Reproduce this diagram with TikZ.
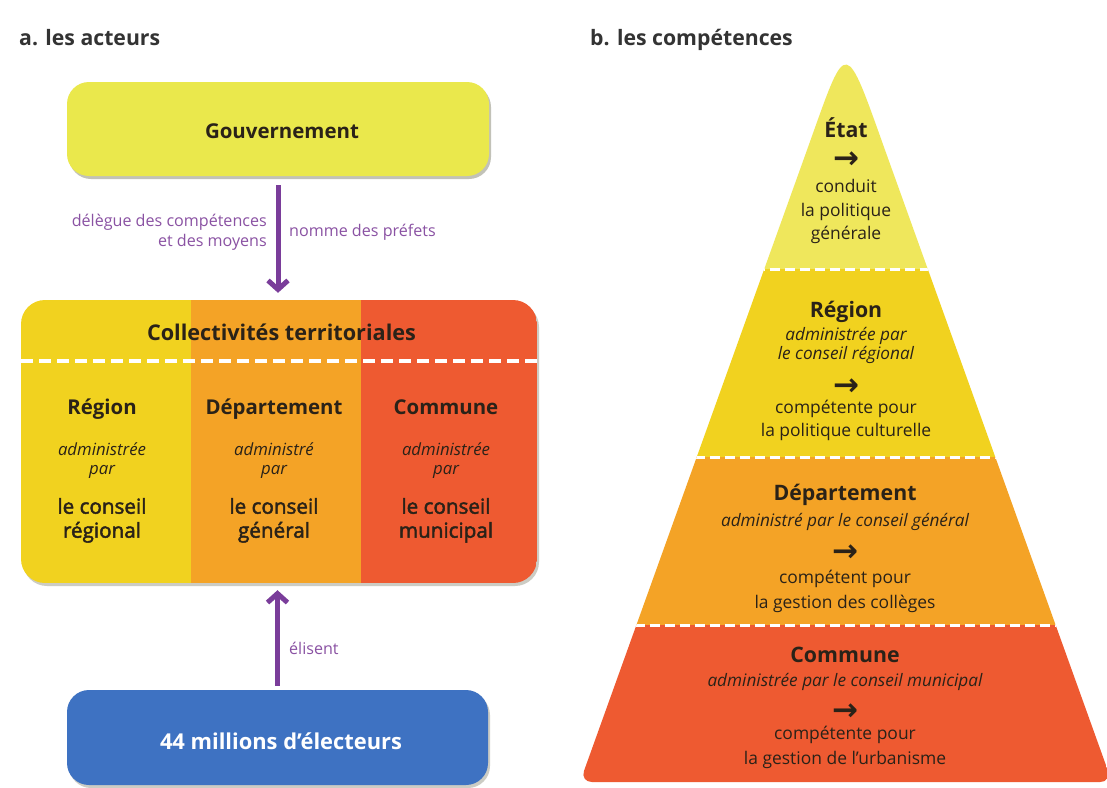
\documentclass[tikz,border=0pt]{standalone}
\usepackage{fontspec}
\setmainfont{Open Sans}
\newfontfamily\arrowfont{DejaVu Sans}
\newfontfamily\medfont[FakeBold=2.2]{Open Sans}
\usetikzlibrary{arrows.meta}
\newlength\fitlen
\newcommand\fitsz[2]{\settowidth\fitlen{\fontsize{10pt}{12pt}\selectfont #2}\pgfmathsetmacro\fitval{10*#1/\fitlen}\fontsize{\fitval pt}{\fitval pt}\selectfont}
\newsavebox\arbox
\newcommand\arrglyph{\sbox\arbox{→}\raisebox{\dimexpr(\dp\arbox-\ht\arbox)/2\relax}[2pt][2pt]{\usebox\arbox}}
\definecolor{govc}{HTML}{EAE84C}
\definecolor{ycol}{HTML}{F1D21F}
\definecolor{ocol}{HTML}{F4A326}
\definecolor{rcol}{HTML}{EE5A31}
\definecolor{bluec}{HTML}{3E72C2}
\definecolor{purp}{HTML}{7A3D9A}
\definecolor{purpt}{HTML}{8A52A3}
\definecolor{txtc}{HTML}{2A2218}
\definecolor{hdrc}{HTML}{333333}
\definecolor{topc}{HTML}{EFE75C}
\definecolor{shadowc}{HTML}{9A9A8A}
\begin{document}
\begin{tikzpicture}[x=1pt,y=-1pt,
  tx/.style={inner sep=0, anchor=mid, yshift=-4pt},
  hdr/.style={tx, font=\bfseries\fitsz{141}{a. les acteurs}, text=hdrc},
  box/.style={rounded corners=22pt, inner sep=0},
  govt/.style={tx, font=\bfseries\fitsz{154}{Gouvernement}, text=txtc},
  ctitle/.style={tx, font=\bfseries\fitsz{269}{Collectivités territoriales}, text=txtc},
  coltitle/.style={tx, font=\bfseries\fitsz{137}{Département}, text=txtc},
  colit/.style={tx, font=\itshape\fitsz{88}{administrée}, text=txtc},
  colbody/.style={tx, font=\medfont\fitsz{89}{le conseil}, text=txtc},
  plab/.style={tx, font=\fitsz{195}{délègue des compétences}, text=purpt},
  elect/.style={tx, font=\bfseries\fitsz{242}{44 millions d’électeurs}, text=white},
  ptitle/.style={tx, font=\bfseries\fitsz{143}{Département}, text=txtc},
  pit/.style={tx, font=\itshape\fitsz{275}{administrée par le conseil municipal}, text=txtc},
  pbody/.style={tx, font=\fitsz{181}{la gestion des collèges}, text=txtc},
  parrow/.style={inner sep=0, font=\arrowfont\bfseries\fitsz{26}{→}, text=txtc},
  parr/.style={draw=purp, line width=5pt, -{Straight Barb[length=9pt,width=20pt]}},
  wdash/.style={draw=white, line width=3.5pt, dash pattern=on 12pt off 6pt},
  pdash/.style={draw=white, line width=3pt, dash pattern=on 10pt off 5pt}
]
\useasboundingbox (0,0) rectangle (1107,787);
\fill[white] (0,0) rectangle (1107,787);

% headers
\node[hdr, anchor=mid west] (ha) at (19,39) {a. les acteurs};
\node[hdr, anchor=mid west] (hb) at (590,39) {b. les compétences};

% Gouvernement
\fill[shadowc, opacity=0.6, rounded corners=22pt] (69,85) rectangle (491,179);
\node[box, fill=govc, minimum width=422pt, minimum height=94pt] (gov) at (278,129) {};
\node[govt] (govtext) at (282,132) {Gouvernement};

% Collectivites
\node[minimum width=516pt, minimum height=283pt, inner sep=0] (coll) at (279,441.5) {};
\fill[shadowc, opacity=0.5, rounded corners=24pt] (23,303) rectangle (539,586);
\begin{scope}
  \clip[rounded corners=24pt] (21,300) rectangle (537,583);
  \fill[ycol] (21,300) rectangle (191,583);
  \fill[ocol] (191,300) rectangle (361,583);
  \fill[rcol] (361,300) rectangle (537,583);
\end{scope}
\coordinate (dl) at (21,361);
\coordinate (dr) at (537,361);
\draw[wdash] (dl) -- (dr);
\node[ctitle] (ct) at (281.5,334) {Collectivités territoriales};

\node[coltitle] (r1) at (102,408) {Région};
\node[colit] (r2) at (102,449) {administrée};
\node[colit] (r3) at (102,468) {par};
\node[colbody] (r4) at (102,507) {le conseil};
\node[colbody] (r5) at (102,531) {régional};

\node[coltitle] (d1) at (274,408) {Département};
\node[colit] (d2) at (274,449) {administré};
\node[colit] (d3) at (274,468) {par};
\node[colbody] (d4) at (274,507) {le conseil};
\node[colbody] (d5) at (274,531) {général};

\node[coltitle] (c1) at (446,408) {Commune};
\node[colit] (c2) at (446,449) {administrée};
\node[colit] (c3) at (446,468) {par};
\node[colbody] (c4) at (446,507) {le conseil};
\node[colbody] (c5) at (446,531) {municipal};

% electeurs
\fill[shadowc, opacity=0.5, rounded corners=22pt] (69,693) rectangle (490,788);
\node[box, fill=bluec, minimum width=421pt, minimum height=95pt] (elec) at (277.5,737.5) {};
\node[elect] (elt) at (281,743) {44 millions d’électeurs};

% arrows
\draw[parr, shorten <=9pt, shorten >=7pt] (gov.south) -- (gov.south |- coll.north);
\draw[parr, shorten <=4pt, shorten >=7pt] (elec.north) -- (elec.north |- coll.south);
\node[plab, anchor=mid east] (l1) at (267,220) {délègue des compétences};
\node[plab, anchor=mid east] (l2) at (267,240) {et des moyens};
\node[plab, anchor=mid west] (l3) at (289,230) {nomme des préfets};
\node[plab, anchor=mid west] (l4) at (289,648) {élisent};

% pyramid
\begin{scope}
  \clip (807,150) .. controls (847,38) and (845,38) .. (885,150)
    [rounded corners=12pt] -- (1112,782) -- (580,782) -- cycle;
  \fill[topc] (560,0) rectangle (1107,269);
  \fill[ycol] (560,269) rectangle (1107,457);
  \fill[ocol] (560,457) rectangle (1107,625);
  \fill[rcol] (560,625) rectangle (1107,787);
  \coordinate (p1l) at (560,269); \coordinate (p1r) at (1107,269);
  \coordinate (p2l) at (560,457); \coordinate (p2r) at (1107,457);
  \coordinate (p3l) at (560,625); \coordinate (p3r) at (1107,625);
  \draw[pdash] (p1l) -- (p1r);
  \draw[pdash] (p2l) -- (p2r);
  \draw[pdash] (p3l) -- (p3r);
\end{scope}

\node[ptitle] (e1) at (846,131) {État};
\node[parrow] (e2) at (846,160) {\arrglyph};
\node[pbody] (e3) at (846,186) {conduit};
\node[pbody] (e4) at (846,210) {la politique};
\node[pbody] (e5) at (846,233) {générale};

\node[ptitle] (g1) at (846,311) {Région};
\node[pit] (g2) at (846,334) {administrée par};
\node[pit] (g3) at (846,353) {le conseil régional};
\node[parrow] (g4) at (846,387) {\arrglyph};
\node[pbody] (g5) at (846,407) {compétente pour};
\node[pbody] (g6) at (846,430) {la politique culturelle};

\node[ptitle] (h1) at (845,494) {Département};
\node[pit] (h2) at (845,520) {administré par le conseil général};
\node[parrow] (h3) at (845,553) {\arrglyph};
\node[pbody] (h4) at (845,577) {compétent pour};
\node[pbody] (h5) at (845,602) {la gestion des collèges};

\node[ptitle] (k1) at (845,656) {Commune};
\node[pit] (k2) at (845,680) {administrée par le conseil municipal};
\node[parrow] (k3) at (845,712) {\arrglyph};
\node[pbody] (k4) at (845,733) {compétente pour};
\node[pbody] (k5) at (845,758) {la gestion de l’urbanisme};
\end{tikzpicture}
\end{document}
